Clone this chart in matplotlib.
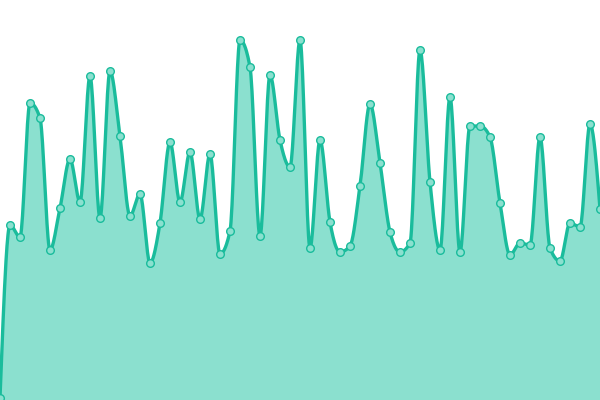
import matplotlib
matplotlib.use('Agg')
import matplotlib.pyplot as plt
import numpy as np

# sample positions (one every 10 units) and values
x_vals = list(range(0, 610, 10))
y_vals = [2, 175, 163, 297, 282, 150, 192, 241, 198, 324,
          182, 329, 264, 184, 206, 137, 177, 258, 198, 248,
          181, 246, 146, 169, 360, 333, 164, 325, 260, 233,
          360, 152, 260, 178, 148, 154, 214, 296, 237, 168,
          148, 157, 350, 218, 150, 303, 148, 274, 274, 263,
          197, 145, 157, 155, 263, 152, 139, 177, 173, 276,
          191]

line_color = '#1abc9c'
fill_color = '#8be0cf'


def monotone_x(x, y, n=20):
    # same idea as d3.curveMonotoneX (Fritsch-Carlson slopes)
    x = np.asarray(x, float)
    y = np.asarray(y, float)
    h = np.diff(x)
    s = np.diff(y) / h
    t = np.zeros_like(y)
    for i in range(1, len(y) - 1):
        s0, s1 = s[i - 1], s[i]
        p = (s0 * h[i] + s1 * h[i - 1]) / (h[i - 1] + h[i])
        t[i] = (np.sign(s0) + np.sign(s1)) * min(abs(s0), abs(s1), 0.5 * abs(p))
    t[0] = (3 * s[0] - t[1]) / 2
    t[-1] = (3 * s[-1] - t[-2]) / 2
    xs, ys = [], []
    for i in range(len(x) - 1):
        u = np.linspace(0, 1, n, endpoint=False)
        h00 = 2 * u**3 - 3 * u**2 + 1
        h10 = u**3 - 2 * u**2 + u
        h01 = -2 * u**3 + 3 * u**2
        h11 = u**3 - u**2
        xs.append(x[i] + u * h[i])
        ys.append(h00 * y[i] + h10 * h[i] * t[i] + h01 * y[i + 1] + h11 * h[i] * t[i + 1])
    xs.append([x[-1]])
    ys.append([y[-1]])
    return np.concatenate(xs), np.concatenate(ys)


sx, sy = monotone_x(x_vals, y_vals)

fig = plt.figure(figsize=(6, 4), dpi=100)
ax = fig.add_axes([0, 0, 1, 1])
ax.fill_between(sx, 0, sy, color=fill_color, lw=0)
ax.plot(sx, sy, color=line_color, lw=2.4, solid_capstyle='round')
ax.plot(x_vals, y_vals, 'o', ms=5.5, mfc=fill_color, mec=line_color, mew=1)
ax.set_xlim(0, 600)
ax.set_ylim(0, 400)
ax.axis('off')

fig.savefig('out.png')
